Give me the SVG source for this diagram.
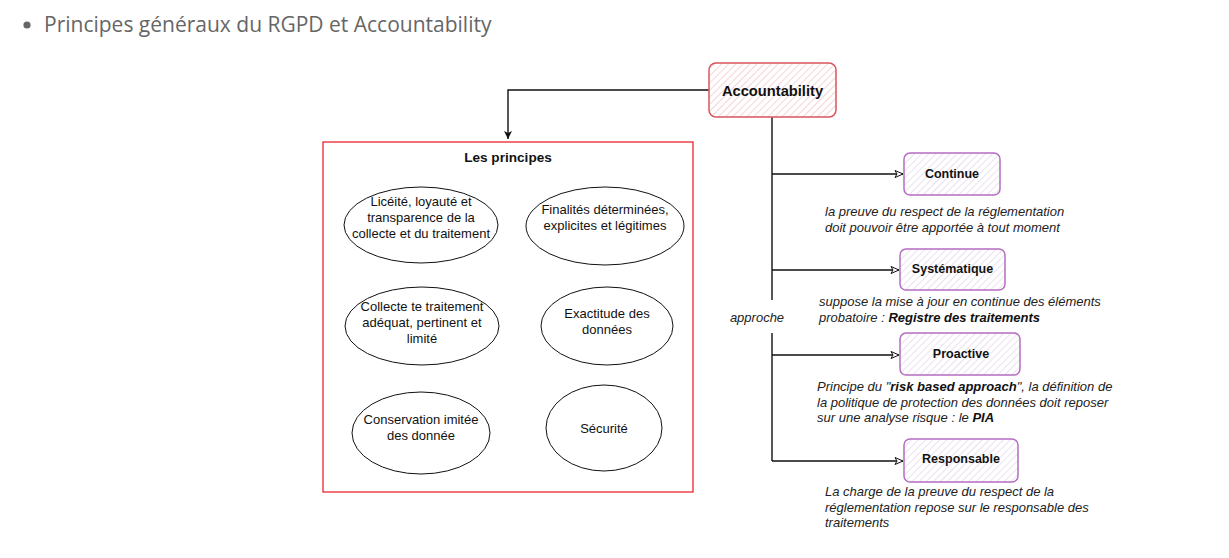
<svg xmlns="http://www.w3.org/2000/svg" width="1229" height="558" viewBox="0 0 1229 558">
<style>
.title{font-family:"Open Sans",sans-serif;font-size:21px;fill:#666}
.bold{font-family:"Liberation Sans",Arial,sans-serif;font-weight:bold;fill:#111}
.el{font-family:"Liberation Sans",Arial,sans-serif;font-size:13px;fill:#111;text-anchor:middle}
.desc{font-family:"Liberation Sans",Arial,sans-serif;font-size:13px;font-style:italic;fill:#222}
.ell{fill:#fff;stroke:#111;stroke-width:1}
.red{fill:url(#hatchRed);stroke:#d9555d;stroke-width:1.5}
.purple{fill:url(#hatchPurple);stroke:#b56ec2;stroke-width:1.5}
.conn{fill:none;stroke:#111;stroke-width:1.4}
</style>
<defs>
<pattern id="hatchRed" patternUnits="userSpaceOnUse" width="5" height="5" patternTransform="rotate(45)">
<rect width="5" height="5" fill="#fff"/>
<line x1="0" y1="0" x2="0" y2="5" stroke="#f4c2c5" stroke-width="1.4"/>
</pattern>
<pattern id="hatchPurple" patternUnits="userSpaceOnUse" width="5" height="5" patternTransform="rotate(45)">
<rect width="5" height="5" fill="#fff"/>
<line x1="0" y1="0" x2="0" y2="5" stroke="#e3d3e8" stroke-width="1.4"/>
</pattern>
<marker id="filled" markerWidth="10" markerHeight="10" refX="8" refY="4" orient="auto" markerUnits="userSpaceOnUse">
<path d="M0,0 L8,4 L0,8 L2,4 Z" fill="#111"/>
</marker>
<marker id="open" markerWidth="12" markerHeight="10" refX="9" refY="4" orient="auto" markerUnits="userSpaceOnUse">
<path d="M1,0.5 L9,4 L1,7.5 L3,4 Z" fill="#fff" stroke="#111" stroke-width="1"/>
</marker>
</defs>

<g id="title">
<circle cx="27" cy="25" r="3.6" fill="#666"/>
<text class="title" x="44" y="32">Principes généraux du RGPD et Accountability</text>
</g>

<g id="connectors">
<path d="M709,90 H508 V139" class="conn" stroke="#666" marker-end="url(#filled)"/>
<path d="M772,117 V300" class="conn"/>
<path d="M772,333 V461" class="conn"/>
<path d="M772,174 H903" class="conn" marker-end="url(#open)"/>
<path d="M772,270 H899" class="conn" marker-end="url(#open)"/>
<path d="M772,355 H899" class="conn" marker-end="url(#open)"/>
<path d="M772,461 H903" class="conn" marker-end="url(#open)"/>
<text class="desc" x="757" y="322" text-anchor="middle" fill="#111">approche</text>
</g>

<g id="accountability">
<rect x="709" y="63" width="127" height="54" rx="7" class="red"/>
<text class="bold" x="772.5" y="96" font-size="14.7" text-anchor="middle">Accountability</text>
</g>

<g id="principes">
<rect x="323" y="142" width="370" height="350" fill="#fff" stroke="#e8262e" stroke-width="1.3"/>
<text class="bold" x="508" y="162" font-size="13.6" text-anchor="middle">Les principes</text>
</g>

<g id="p1">
<ellipse cx="421" cy="225" rx="77" ry="38" class="ell"/>
<text class="el" x="421" y="206">Licéité, loyauté et</text>
<text class="el" x="421" y="222">transparence de la</text>
<text class="el" x="421" y="238">collecte et du traitement</text>
</g>
<g id="p2">
<ellipse cx="605" cy="226" rx="79" ry="39" class="ell"/>
<text class="el" x="605" y="214">Finalités déterminées,</text>
<text class="el" x="605" y="230">explicites et légitimes</text>
</g>
<g id="p3">
<ellipse cx="422" cy="326" rx="77" ry="39" class="ell"/>
<text class="el" x="422" y="311">Collecte te traitement</text>
<text class="el" x="422" y="327">adéquat, pertinent et</text>
<text class="el" x="422" y="343">limité</text>
</g>
<g id="p4">
<ellipse cx="607" cy="326" rx="66" ry="39" class="ell"/>
<text class="el" x="607" y="318">Exactitude des</text>
<text class="el" x="607" y="334">données</text>
</g>
<g id="p5">
<ellipse cx="421" cy="433" rx="69" ry="41" class="ell"/>
<text class="el" x="421" y="424">Conservation imitée</text>
<text class="el" x="421" y="440">des donnée</text>
</g>
<g id="p6">
<ellipse cx="604" cy="428" rx="58" ry="43" class="ell"/>
<text class="el" x="604" y="433">Sécurité</text>
</g>

<g id="continue">
<rect x="904" y="153" width="96" height="42" rx="6" class="purple"/>
<text class="bold" x="952" y="178" font-size="12.5" text-anchor="middle">Continue</text>
<text class="desc" x="825" y="216">la preuve du respect de la réglementation</text>
<text class="desc" x="825" y="232">doit pouvoir être apportée à tout moment</text>
</g>

<g id="systematique">
<rect x="900" y="249" width="105" height="41" rx="6" class="purple"/>
<text class="bold" x="952.5" y="273" font-size="12.5" text-anchor="middle">Systématique</text>
<text class="desc" x="819" y="306">suppose la mise à jour en continue des éléments</text>
<text class="desc" x="819" y="322">probatoire : <tspan font-weight="bold" fill="#111">Registre des traitements</tspan></text>
</g>

<g id="proactive">
<rect x="900" y="333" width="120" height="42" rx="6" class="purple"/>
<text class="bold" x="961" y="358" font-size="12.5" text-anchor="middle">Proactive</text>
<text class="desc" x="817" y="391">Principe du "<tspan font-weight="bold" fill="#111">risk based approach</tspan>", la définition de</text>
<text class="desc" x="817" y="407">la politique de protection des données doit reposer</text>
<text class="desc" x="817" y="422">sur une analyse risque : le <tspan font-weight="bold" fill="#111">PIA</tspan></text>
</g>

<g id="responsable">
<rect x="904" y="439" width="114" height="43" rx="6" class="purple"/>
<text class="bold" x="961" y="463" font-size="12.5" text-anchor="middle">Responsable</text>
<text class="desc" x="825" y="496">La charge de la preuve du respect de la</text>
<text class="desc" x="825" y="512">réglementation repose sur le responsable des</text>
<text class="desc" x="825" y="527">traitements</text>
</g>
</svg>
